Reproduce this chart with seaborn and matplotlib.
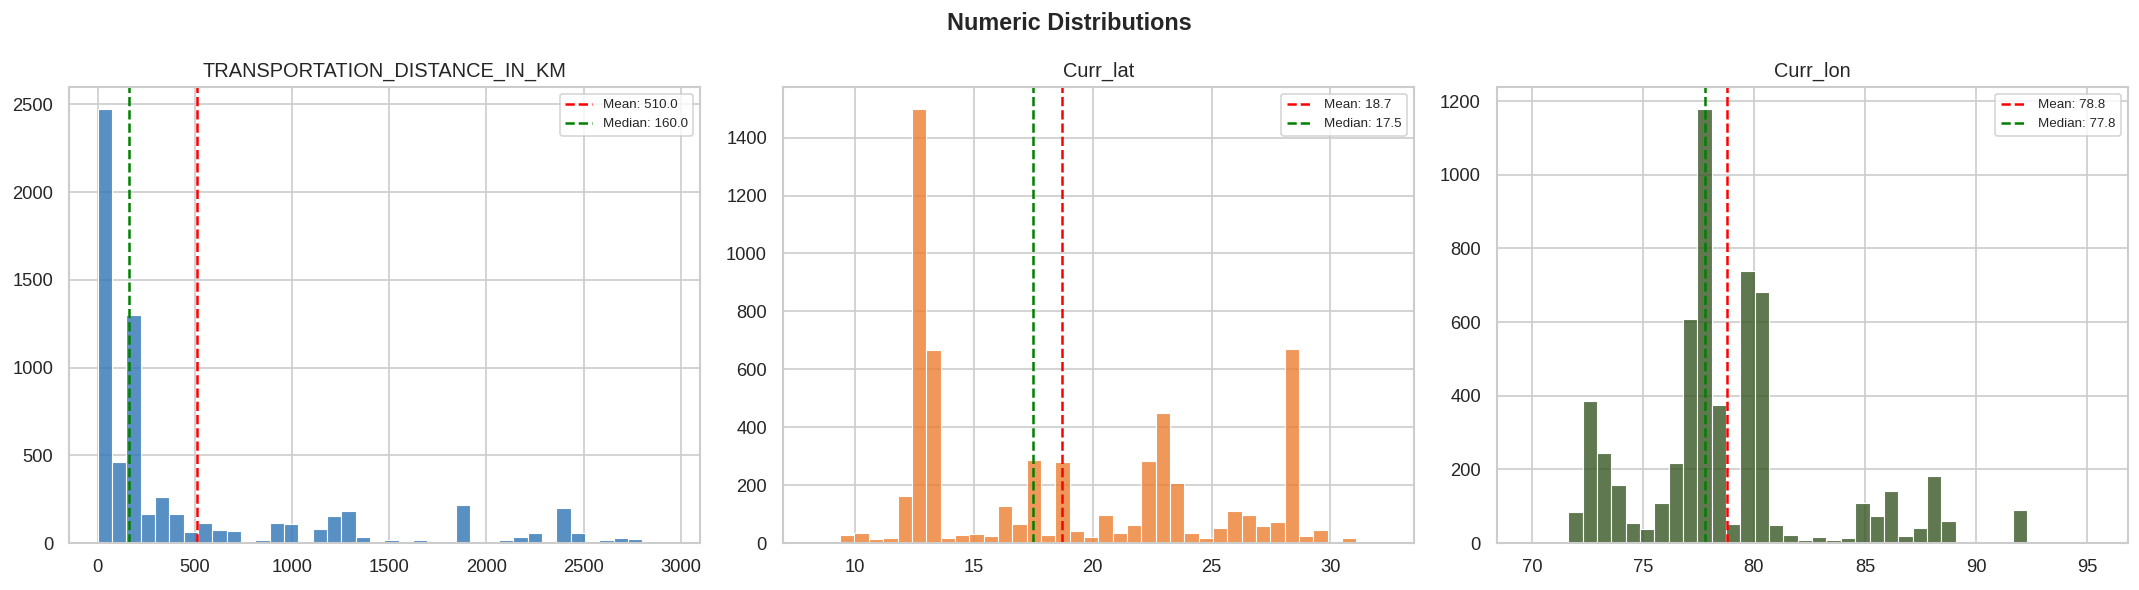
import numpy as np
import pandas as pd
import matplotlib
matplotlib.use('Agg')
import matplotlib.pyplot as plt
import seaborn as sns

# bin ranges (40 bins each)
dist_range = (0.0, 2950.0)
lat_range = (8.17, 32.3)
lon_range = (69.71, 95.54)

# counts per bin, left to right
dist_counts = [2475, 460, 1300, 167, 264, 167, 63, 115, 75, 69,
               11, 17, 115, 109, 5, 80, 155, 184, 34, 0,
               17, 7, 17, 0, 6, 218, 6, 0, 17, 34,
               57, 11, 201, 54, 6, 17, 29, 23, 0, 2]
lat_counts = [2, 1, 27, 35, 13, 16, 163, 1500, 667, 16,
              27, 30, 23, 128, 65, 286, 27, 279, 40, 20,
              96, 33, 61, 283, 449, 207, 35, 16, 51, 110,
              96, 58, 73, 671, 23, 44, 0, 17, 5, 2]
lon_counts = [4, 0, 0, 85, 385, 243, 158, 55, 38, 109,
              218, 608, 1179, 374, 52, 739, 681, 49, 22, 8,
              16, 8, 14, 109, 74, 142, 19, 41, 181, 60,
              0, 4, 0, 0, 90, 4, 0, 0, 0, 2]

titles = ['TRANSPORTATION_DISTANCE_IN_KM', 'Curr_lat', 'Curr_lon']
means = [510.0, 18.7, 78.8]
medians = [160.0, 17.5, 77.8]
colors = ['#2E75B6', '#ED7D31', '#375623']

sns.set_theme(style='whitegrid')
plt.rcParams['font.family'] = ['Liberation Sans', 'DejaVu Sans']

fig, axes = plt.subplots(1, 3, figsize=(17.83, 4.917), dpi=120)

panels = [(dist_range, dist_counts), (lat_range, lat_counts), (lon_range, lon_counts)]
for ax, (rng, counts), title, mean, median, color in zip(axes, panels, titles, means, medians, colors):
    edges = np.linspace(rng[0], rng[1], len(counts) + 1)
    df = pd.DataFrame({'value': (edges[:-1] + edges[1:]) / 2, 'count': counts})
    sns.histplot(data=df, x='value', weights='count', bins=list(edges), color=color,
                 alpha=0.8, edgecolor='white', ax=ax)
    ax.axvline(mean, color='red', linestyle='--', linewidth=1.5, label=f'Mean: {mean:.1f}')
    ax.axvline(median, color='green', linestyle='--', linewidth=1.5, label=f'Median: {median:.1f}')
    ax.set_title(title, fontsize=12)
    ax.set_xlabel('')
    ax.set_ylabel('')
    ax.tick_params(labelsize=11)
    ax.legend(fontsize=8, loc='upper right')

fig.suptitle('Numeric Distributions', fontsize=14, fontweight='bold', y=0.98)
fig.subplots_adjust(left=0.0322, right=0.9944, top=0.8525, bottom=0.0797, wspace=0.1315)
plt.savefig('out.png', dpi=120)
plt.close()
